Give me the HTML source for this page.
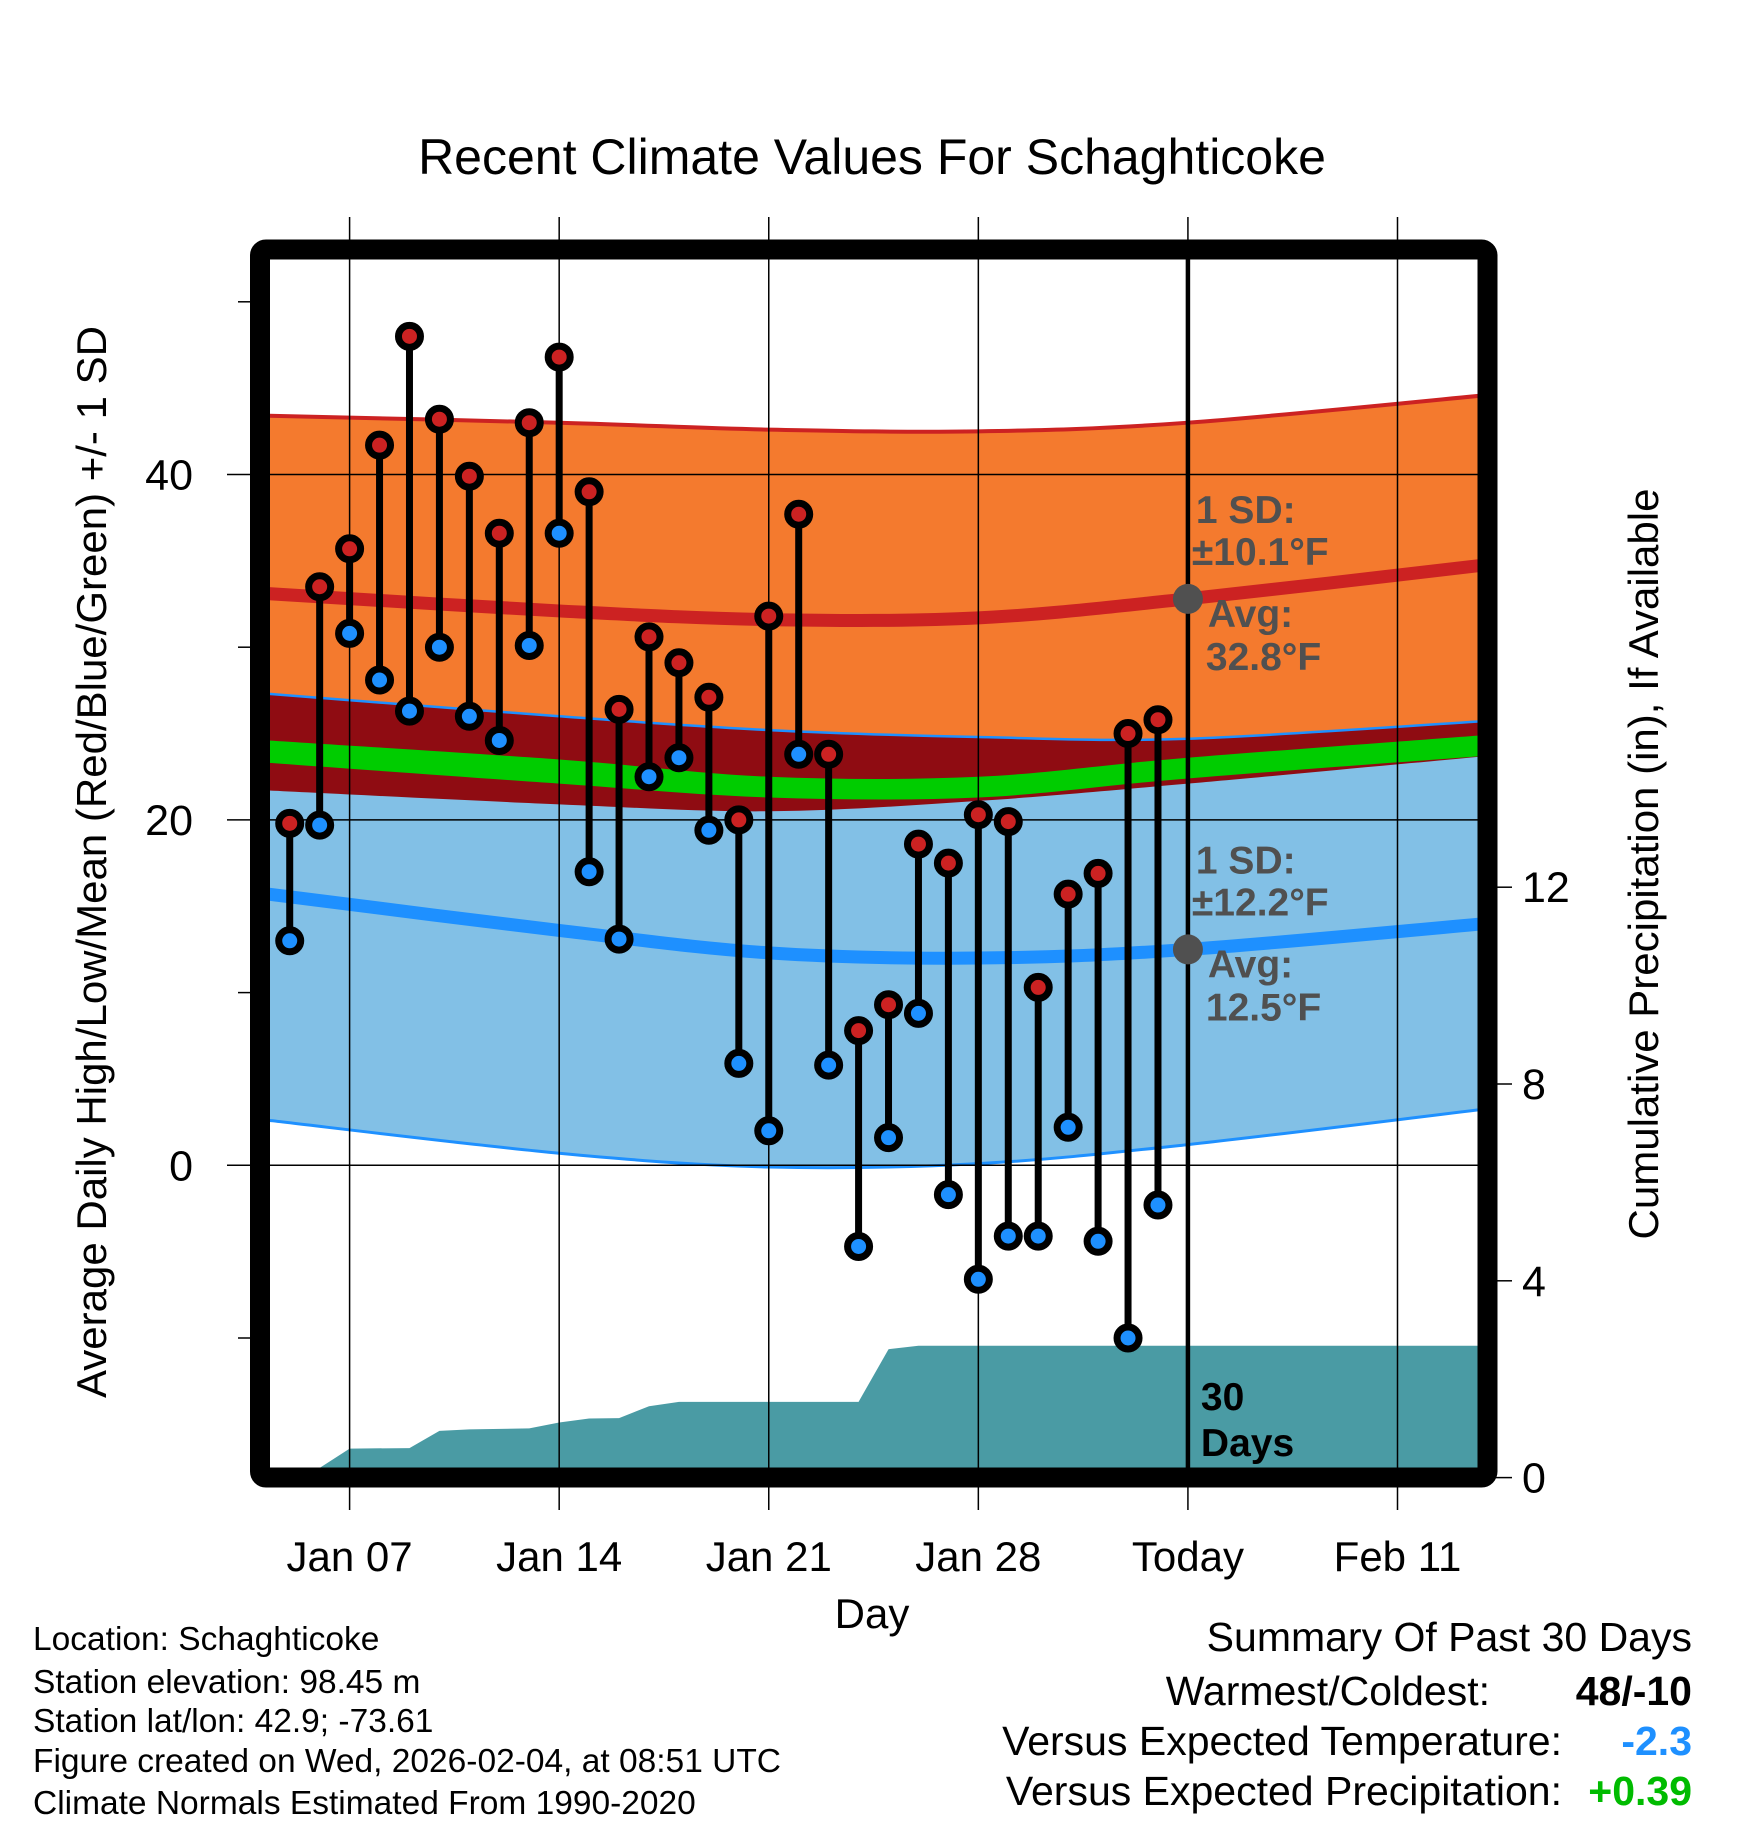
<!DOCTYPE html>
<html><head><meta charset="utf-8"><style>
html,body{margin:0;padding:0;background:#fff;}
svg{display:block;font-family:"Liberation Sans",sans-serif;}
</style></head><body>
<svg id="chart" width="1748" height="1828" viewBox="0 0 1748 1828" xmlns="http://www.w3.org/2000/svg">
<defs><clipPath id="plotclip"><rect x="269" y="259" width="1209" height="1209"/></clipPath></defs>
<g id="bands" clip-path="url(#plotclip)"></g>
<g id="grid"></g>
<g id="marks" clip-path="url(#plotclip)"></g>
<g id="overlay"></g>
<rect x="260" y="249.5" width="1227.5" height="1228" rx="6" fill="none" stroke="#000" stroke-width="20"/>
<text x="872" y="174" font-size="50" text-anchor="middle">Recent Climate Values For Schaghticoke</text>
<text transform="translate(106,862) rotate(-90)" font-size="42" text-anchor="middle">Average Daily High/Low/Mean (Red/Blue/Green) +/- 1 SD</text>
<text transform="translate(1658,864) rotate(-90)" font-size="42" text-anchor="middle">Cumulative Precipitation (in), If Available</text>
<text x="872" y="1628" font-size="42" text-anchor="middle">Day</text>
<g font-size="33.5">
<text x="33" y="1650">Location: Schaghticoke</text>
<text x="33" y="1693">Station elevation: 98.45 m</text>
<text x="33" y="1732">Station lat/lon: 42.9; -73.61</text>
<text x="33" y="1772">Figure created on Wed, 2026-02-04, at 08:51 UTC</text>
<text x="33" y="1814">Climate Normals Estimated From 1990-2020</text>
</g>
<g font-size="41">
<text x="1692" y="1651" text-anchor="end">Summary Of Past 30 Days</text>
<text x="1490" y="1705" text-anchor="end">Warmest/Coldest:</text>
<text x="1692" y="1705" text-anchor="end" font-weight="bold">48/-10</text>
<text x="1562" y="1755" text-anchor="end">Versus Expected Temperature:</text>
<text x="1692" y="1755" text-anchor="end" font-weight="bold" fill="#1e90ff">-2.3</text>
<text x="1562" y="1805" text-anchor="end">Versus Expected Precipitation:</text>
<text x="1692" y="1805" text-anchor="end" font-weight="bold" fill="#00bb00">+0.39</text>
</g>
</svg>
<script>
// ---- data ----
const days = [5,6,7,8,9,10,11,12,13,14,15,16,17,18,19,20,21,22,23,24,25,26,27,28,29,30,31,32,33,34];
const highs = [19.8,33.5,35.7,41.7,48.0,43.2,39.9,36.6,43.0,46.8,39.0,26.4,30.6,29.1,27.1,20.0,31.8,37.7,23.8,7.8,9.3,18.6,17.5,20.3,19.9,10.3,15.7,16.9,25.0,25.8];
const lows = [13.0,19.7,30.8,28.1,26.3,30.0,26.0,24.6,30.1,36.6,17.0,13.1,22.5,23.6,19.4,5.9,2.0,23.8,5.8,-4.7,1.6,8.8,-1.7,-6.6,-4.1,-4.1,2.2,-4.4,-10.0,-2.3];
const precipDays = [5.5,7,9,10,11,13,14,15,16,17,18,24,25,26,34,46];
const precipCum = [0,0.59,0.6,0.95,0.98,1.0,1.12,1.2,1.21,1.45,1.54,1.54,2.61,2.68,2.68,2.68];
const normDays = [4.3,14,21,28,35,45.6];
const highPlus = [43.4,43.0,42.6,42.5,43.0,44.7];
const highMean = [33.1,32.1,31.6,31.7,32.8,34.9];
const lowPlus = [27.3,26.0,25.2,24.8,24.7,25.8];
const meanTop = [24.6,23.5,22.5,22.5,23.6,25.0];
const meanBot = [23.3,22.1,21.3,21.3,22.4,23.8];
const highMinus = [21.7,20.9,20.5,21.1,22.1,23.8];
const lowMean = [15.7,13.6,12.3,12.0,12.5,14.1];
const lowMinus = [2.6,0.7,-0.1,0.1,1.2,3.4];
const xTickDays = [7,14,21,28,35,42];
const xTickLabels = ["Jan 07","Jan 14","Jan 21","Jan 28","Today","Feb 11"];
const yTicks = [0,20,40];
const yMinor = [-10,10,30,50];
const pTicks = [0,4,8,12];
const todayDay = 35;

// ---- scales ----
const X = d => 349.6 + (d-7)*29.94;
const Y = t => 1165.3 - t*17.27;
const P = p => 1477.6 - p*49.2;
const NS = "http://www.w3.org/2000/svg";
function mk(tag, parent, attrs){const e=document.createElementNS(NS,tag);for(const k in attrs)e.setAttribute(k,attrs[k]);parent.appendChild(e);return e;}

function pts(vals){return normDays.map((d,i)=>[X(d),Y(vals[i])]);}
function curve(p){
  let s=`M${p[0][0]},${p[0][1]}`;
  for(let i=0;i<p.length-1;i++){
    const p0=p[Math.max(0,i-1)],p1=p[i],p2=p[i+1],p3=p[Math.min(p.length-1,i+2)];
    const c1=[p1[0]+(p2[0]-p0[0])/6,p1[1]+(p2[1]-p0[1])/6];
    const c2=[p2[0]-(p3[0]-p1[0])/6,p2[1]-(p3[1]-p1[1])/6];
    s+=` C${c1[0]},${c1[1]} ${c2[0]},${c2[1]} ${p2[0]},${p2[1]}`;
  }
  return s;
}
function rev(p){return p.slice().reverse();}
function band(top,bot){const a=pts(top),b=rev(pts(bot));return curve(a)+" L"+curve(b).slice(1)+" Z";}

const bands=document.getElementById('bands');
let e;
e=mk('path',bands,{d:band(highPlus,lowPlus),fill:'#f47a2e'});


e=mk('path',bands,{d:band(lowPlus,lowMinus),fill:'#82c0e6'});


e=mk('path',bands,{d:band(lowPlus,highMinus),fill:'#8f0c12'});


e=mk('path',bands,{d:band(meanTop,meanBot),fill:'#00cc00'});


e=mk('path',bands,{d:curve(pts(highPlus)),fill:'none',stroke:'#cc2222',"stroke-width":4});


e=mk('path',bands,{d:curve(pts(highMean)),fill:'none',stroke:'#cc2222',"stroke-width":13});


e=mk('path',bands,{d:curve(pts(lowPlus)),fill:'none',stroke:'#1e90ff',"stroke-width":2.5});


e=mk('path',bands,{d:curve(pts(lowMean)),fill:'none',stroke:'#1e90ff',"stroke-width":13});


e=mk('path',bands,{d:curve(pts(lowMinus)),fill:'none',stroke:'#1e90ff',"stroke-width":3});



let pd=`M${X(precipDays[0])},${P(0)}`;
precipDays.forEach((d,i)=>{pd+=` L${X(d)},${P(precipCum[i])}`;});
pd+=` L${X(precipDays[precipDays.length-1])},${P(0)} Z`;
e=mk('path',bands,{d:pd,fill:'#4a9ba4'});



const grid=document.getElementById('grid');
xTickDays.forEach((d,i)=>{
  e=mk('line',grid,{x1:X(d),x2:X(d),y1:217,y2:1510,stroke:'#000','stroke-width':1.5});
  
  
  e=mk('text',grid,{x:X(d),y:1571,'font-size':42,'text-anchor':'middle'});
  e.textContent=xTickLabels[i];
  
  
});
yTicks.forEach(t=>{
  e=mk('line',grid,{x1:227,x2:1478,y1:Y(t),y2:Y(t),stroke:'#000','stroke-width':1.5});
  
  
  e=mk('text',grid,{x:193,y:Y(t)+15,'font-size':43,'text-anchor':'end'});
  e.textContent=t;
  
  
});
yMinor.forEach(t=>{
  e=mk('line',grid,{x1:238,x2:252,y1:Y(t),y2:Y(t),stroke:'#000','stroke-width':1.5});
  
  
});
pTicks.forEach(p=>{
  e=mk('line',grid,{x1:1496,x2:1512,y1:P(p),y2:P(p),stroke:'#000','stroke-width':1.5});
  
  
  e=mk('text',grid,{x:1522,y:P(p)+15,'font-size':43});
  e.textContent=p;
  
  
});

const marks=document.getElementById('marks');
days.forEach((d,i)=>{
  const g=mk('g',marks,{});
  
  
  mk('line',g,{x1:X(d),x2:X(d),y1:Y(highs[i]),y2:Y(lows[i]),stroke:'#000','stroke-width':7});
  e=mk('circle',g,{cx:X(d),cy:Y(highs[i]),r:11,fill:'#cc2222',stroke:'#000','stroke-width':7});
  
  
  e=mk('circle',g,{cx:X(d),cy:Y(lows[i]),r:11,fill:'#1e90ff',stroke:'#000','stroke-width':7});
  
  
});

const ov=document.getElementById('overlay');
e=mk('line',ov,{x1:X(todayDay),x2:X(todayDay),y1:259,y2:1468,stroke:'#000','stroke-width':4.5});


const hm=highMean[4], lm=lowMean[4];
e=mk('circle',ov,{cx:X(todayDay),cy:Y(hm),r:15,fill:'#505050'});


e=mk('circle',ov,{cx:X(todayDay),cy:Y(lm),r:15,fill:'#505050'});


function ann(x,y,txt,name){e=mk('text',ov,{x:x,y:y,'font-size':39,'font-weight':'bold',fill:'#505050'});e.textContent=txt;}
const tx=X(todayDay);
ann(tx+8,Y(hm)-76,"1 SD:","high-sd-label");
ann(tx+4,Y(hm)-34,"±10.1°F","high-sd-value");
ann(tx+20,Y(hm)+28,"Avg:","high-avg-label");
ann(tx+18,Y(hm)+71,"32.8°F","high-avg-value");
ann(tx+8,Y(lm)-76,"1 SD:","low-sd-label");
ann(tx+4,Y(lm)-34,"±12.2°F","low-sd-value");
ann(tx+20,Y(lm)+28,"Avg:","low-avg-label");
ann(tx+18,Y(lm)+71,"12.5°F","low-avg-value");
e=mk('text',ov,{x:tx+13,y:1410,'font-size':39,'font-weight':'bold'});e.textContent="30";


e=mk('text',ov,{x:tx+13,y:1456,'font-size':39,'font-weight':'bold'});e.textContent="Days";


</script>
</body></html>
